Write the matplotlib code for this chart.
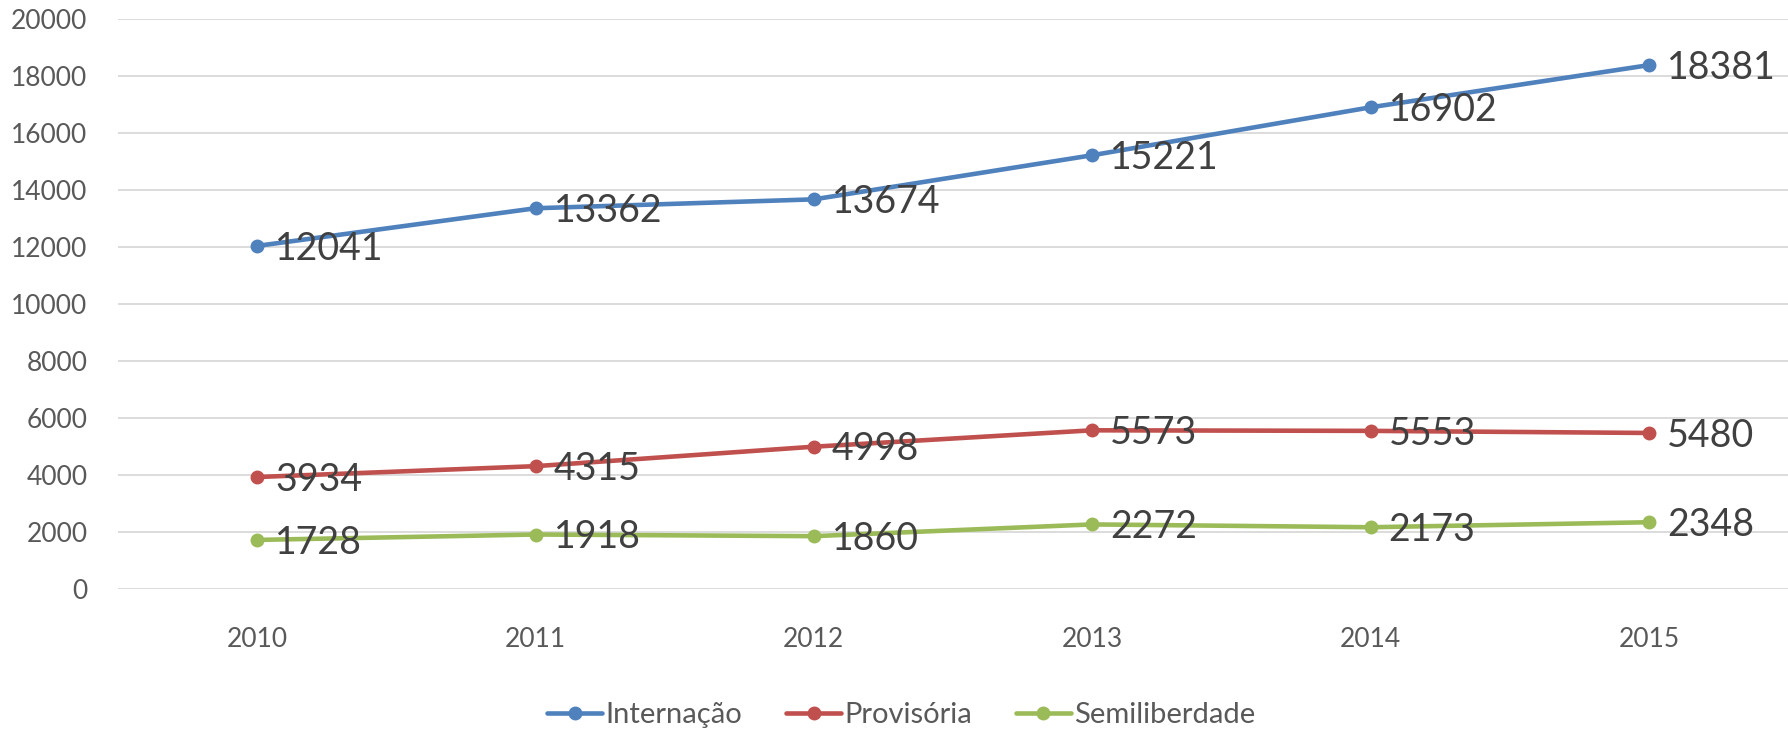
import numpy as np
import matplotlib.pyplot as plt

plt.rcParams['font.family'] = ['Lato', 'DejaVu Sans']

# Data
years = ['2010', '2011', '2012', '2013', '2014', '2015']
internacao = [12041, 13362, 13674, 15221, 16902, 18381]
provisoria = [3934, 4315, 4998, 5573, 5553, 5480]
semiliberdade = [1728, 1918, 1860, 2272, 2173, 2348]

series = [
    ('Internação', internacao, '#4F81BD'),
    ('Provisória', provisoria, '#C0504D'),
    ('Semiliberdade', semiliberdade, '#9BBB59'),
]

fig = plt.figure(figsize=(17.88, 7.31), dpi=100)
ax = fig.add_axes([0.066, 0.194, 0.934, 0.780])

x = np.arange(len(years))
for name, vals, col in series:
    ax.plot(x, vals, color=col, lw=3.3, marker='o', ms=9, label=name,
            solid_capstyle='round', zorder=3)
    for xi, v in zip(x, vals):
        ax.annotate(str(v), (xi, v), xytext=(13, -2), textcoords='offset points',
                    ha='left', va='center', fontsize=27, color='#404040',
                    zorder=4)

ax.set_xlim(-0.5, len(years) - 0.5)
ax.set_ylim(0, 20000)
ax.set_yticks(np.arange(0, 20001, 2000))
ax.set_xticks(x)
ax.set_xticklabels(years)
ax.grid(axis='y', color='#D9D9D9', lw=1.3)
ax.set_axisbelow(True)
for s in ax.spines.values():
    s.set_visible(False)
ax.tick_params(axis='both', length=0, colors='#595959', labelsize=19)
ax.tick_params(axis='y', pad=22)
ax.tick_params(axis='x', pad=27)

fig.legend(loc='center', bbox_to_anchor=(0.504, 0.022), ncol=3, frameon=False,
           fontsize=21, handlelength=1.9, columnspacing=1.5, handletextpad=0.1,
           labelcolor='#595959')

fig.savefig('out.png', dpi=100)
